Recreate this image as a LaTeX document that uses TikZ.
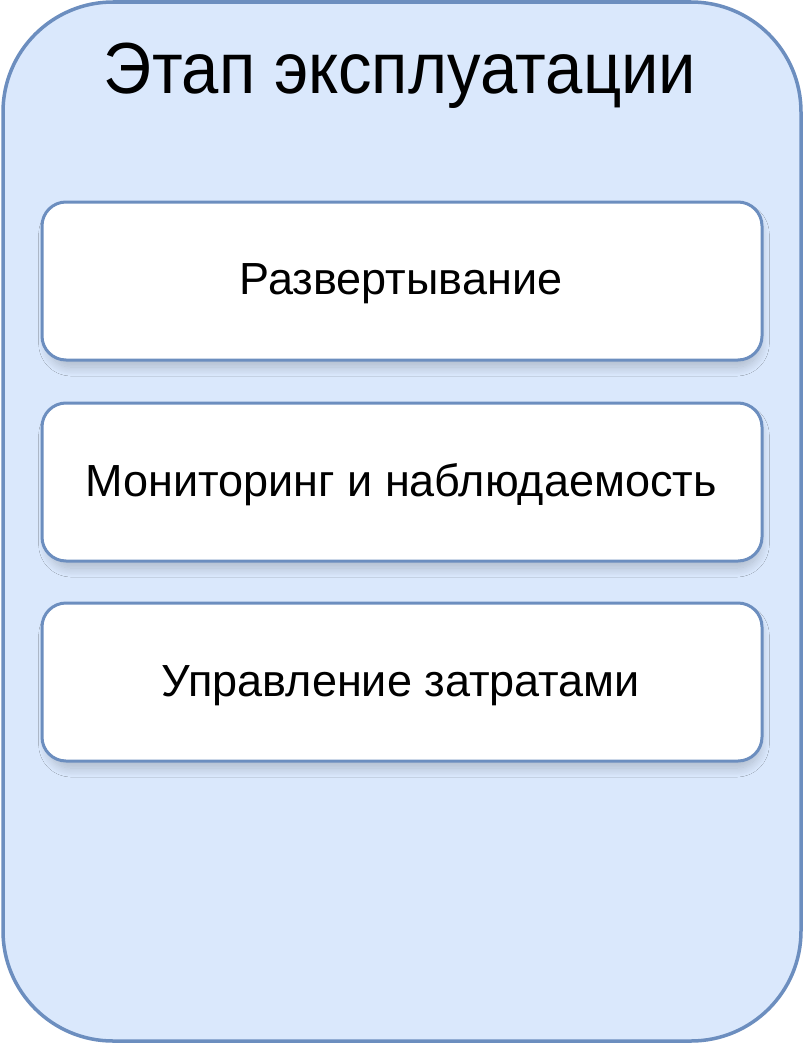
\documentclass[tikz,border=0pt]{standalone}
\usepackage{fontspec}
\setmainfont{Liberation Sans}
\usetikzlibrary{shadows.blur}
\definecolor{outerfill}{HTML}{DAE8FC}
\definecolor{edgeblue}{HTML}{6C8EBF}
\begin{document}
\begin{tikzpicture}[x=1pt,y=-1pt,
  outerbox/.style={draw=edgeblue, fill=outerfill, line width=3.5pt, rounded corners=110pt},
  itembox/.style={draw=edgeblue, fill=white, line width=3pt, rounded corners=24pt,
    minimum width=720pt, minimum height=158pt, inner sep=0pt,
    blur shadow={shadow xshift=2pt, shadow yshift=-8pt, shadow scale=0.99, shadow blur radius=9pt, shadow blur steps=20, shadow opacity=20}},
  itemtext/.style={font=\fontsize{45}{52}\selectfont, inner sep=0pt, anchor=base},
  titletext/.style={font=\fontsize{67}{78}\selectfont, inner sep=0pt, anchor=base}]
\useasboundingbox (0,0) rectangle (804,1044);
\draw[outerbox] (3,2) rectangle (801,1041);
\node[titletext, yscale=1.08] (title) at (400,93) {Этап эксплуатации};
\node[itembox] (b1) at (402,281) {};
\node[itembox] (b2) at (402,482) {};
\node[itembox] (b3) at (402,682) {};
\node[itemtext] (t1) at (401,294) {Развертывание};
\node[itemtext] (t2) at (401,496) {Мониторинг и наблюдаемость};
\node[itemtext] (t3) at (401,696) {Управление затратами};
\end{tikzpicture}
\end{document}
